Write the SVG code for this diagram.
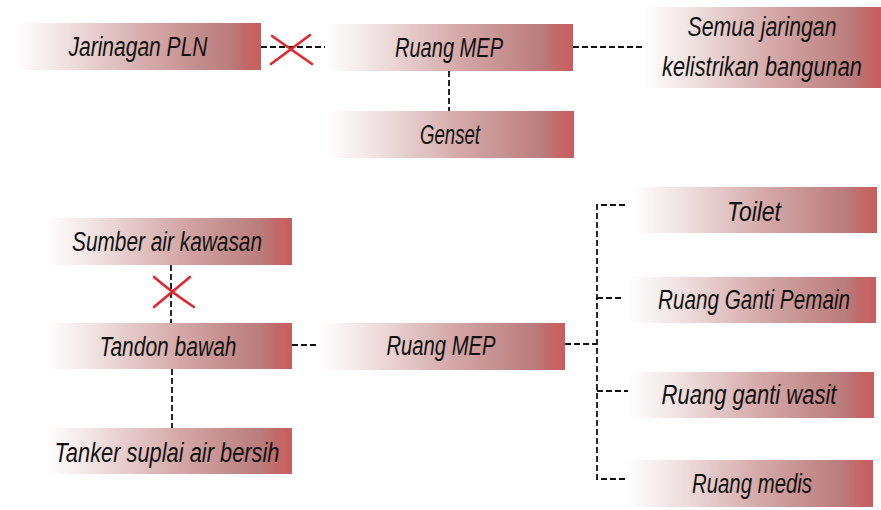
<svg xmlns="http://www.w3.org/2000/svg" width="881" height="510" viewBox="0 0 881 510">
  <defs>
    <linearGradient id="fade" x1="0" y1="0" x2="1" y2="0">
      <stop offset="0" stop-color="#ffffff"/>
      <stop offset="0.2" stop-color="#f1e2e2"/>
      <stop offset="0.55" stop-color="#d4a7a7"/>
      <stop offset="0.88" stop-color="#ba7b7b"/>
      <stop offset="0.94" stop-color="#c26868"/>
      <stop offset="1" stop-color="#c95e5e"/>
    </linearGradient>
  </defs>
  <style>
    .box { fill: url(#fade); }
    .lbl { font-family: "Liberation Sans", Arial, sans-serif; font-style: italic; font-size: 27px; fill: #111; text-anchor: middle; }
    .dash { fill: none; stroke: #111; stroke-width: 1.8; stroke-dasharray: 6 3; }
    .cut { stroke: #e3262b; stroke-width: 2.6; stroke-linecap: round; fill: none; }
  </style>

  <rect width="881" height="510" fill="#ffffff"/>

  <g id="connectors">
    <line class="dash" x1="261" y1="47" x2="325" y2="47"/>
    <line class="dash" x1="573" y1="47" x2="645" y2="47"/>
    <line class="dash" x1="449" y1="71" x2="449" y2="111"/>
    <line class="dash" x1="171" y1="265" x2="171" y2="323"/>
    <line class="dash" x1="172" y1="369" x2="172" y2="428"/>
    <line class="dash" x1="292" y1="345" x2="318" y2="345"/>
    <line class="dash" x1="565" y1="344" x2="597" y2="344"/>
    <polyline class="dash" points="625,205 597,205 597,479 629,479"/>
    <line class="dash" x1="597" y1="298" x2="623" y2="298"/>
    <line class="dash" x1="597" y1="391" x2="629" y2="391"/>
    <!-- cut marks on disconnected supplies -->
    <path class="cut" d="M272,36 Q292,50 312,64 M310,35 Q290,50 271,64"/>
    <path class="cut" d="M154,307 Q172,292 190,277 M154,277 Q174,294 194,307"/>
  </g>

  <g id="jaringan-pln">
    <rect class="box" x="15" y="23" width="246" height="47"/>
    <text class="lbl" x="138" y="56" textLength="139" lengthAdjust="spacingAndGlyphs">Jarinagan PLN</text>
  </g>
  <g id="ruang-mep-listrik">
    <rect class="box" x="325" y="24" width="248" height="47"/>
    <text class="lbl" x="449" y="57" textLength="108" lengthAdjust="spacingAndGlyphs">Ruang MEP</text>
  </g>
  <g id="genset">
    <rect class="box" x="327" y="111" width="247" height="47"/>
    <text class="lbl" x="450" y="144" textLength="60" lengthAdjust="spacingAndGlyphs">Genset</text>
  </g>
  <g id="jaringan-bangunan">
    <rect class="box" x="643" y="7" width="238" height="81"/>
    <text class="lbl" x="762" y="36" textLength="149" lengthAdjust="spacingAndGlyphs">Semua jaringan</text>
    <text class="lbl" x="762" y="76" textLength="200" lengthAdjust="spacingAndGlyphs">kelistrikan bangunan</text>
  </g>

  <g id="sumber-air">
    <rect class="box" x="45" y="218" width="247" height="47"/>
    <text class="lbl" x="167" y="251" textLength="190" lengthAdjust="spacingAndGlyphs">Sumber air kawasan</text>
  </g>
  <g id="tandon-bawah">
    <rect class="box" x="45" y="323" width="247" height="46"/>
    <text class="lbl" x="168" y="356" textLength="137" lengthAdjust="spacingAndGlyphs">Tandon bawah</text>
  </g>
  <g id="tanker">
    <rect class="box" x="45" y="428" width="247" height="46"/>
    <text class="lbl" x="167" y="462" textLength="225" lengthAdjust="spacingAndGlyphs">Tanker suplai air bersih</text>
  </g>
  <g id="ruang-mep-air">
    <rect class="box" x="318" y="323" width="247" height="47"/>
    <text class="lbl" x="441" y="355" textLength="109" lengthAdjust="spacingAndGlyphs">Ruang MEP</text>
  </g>
  <g id="toilet">
    <rect class="box" x="632" y="187" width="245" height="46"/>
    <text class="lbl" x="754" y="221" textLength="54" lengthAdjust="spacingAndGlyphs">Toilet</text>
  </g>
  <g id="ganti-pemain">
    <rect class="box" x="628" y="277" width="248" height="46"/>
    <text class="lbl" x="754" y="309" textLength="192" lengthAdjust="spacingAndGlyphs">Ruang Ganti Pemain</text>
  </g>
  <g id="ganti-wasit">
    <rect class="box" x="628" y="372" width="246" height="46"/>
    <text class="lbl" x="749" y="404" textLength="175" lengthAdjust="spacingAndGlyphs">Ruang ganti wasit</text>
  </g>
  <g id="medis">
    <rect class="box" x="626" y="460" width="247" height="47"/>
    <text class="lbl" x="752" y="493" textLength="120" lengthAdjust="spacingAndGlyphs">Ruang medis</text>
  </g>
</svg>
